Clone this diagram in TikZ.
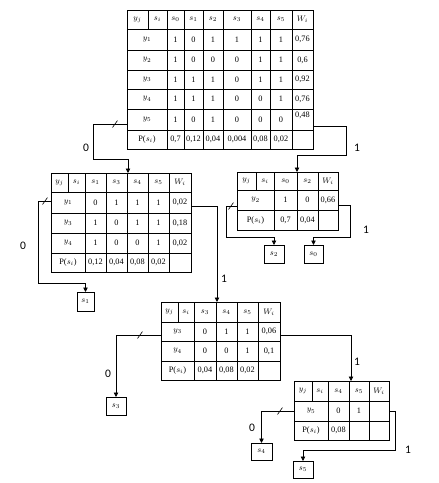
\documentclass[tikz,border=0pt]{standalone}
\usepackage{fontspec}
\setmainfont{Liberation Serif}
\newfontfamily\lblfont{Carlito}
\usetikzlibrary{arrows.meta}
\tikzset{
 tline/.style={line width=0.8pt, black},
 tbox/.style={draw, line width=0.8pt, inner sep=0pt, outer sep=0pt, anchor=north west},
 cellt/.style={inner sep=0pt, font=\fontsize{8.3}{9}\selectfont},
 leaf/.style={draw, line width=0.8pt, inner sep=0pt, outer sep=0pt, minimum width=19pt, minimum height=18pt, font=\fontsize{8.3}{9}\selectfont},
 conn/.style={line width=0.8pt},
 arr/.style={conn, -{Triangle[width=4.5pt,length=4.5pt]}},
 branch/.style={font=\lblfont\fontsize{11.5}{12}\selectfont, inner sep=0pt},
 tick/.style={line width=0.6pt}
}
\newcommand\vls[3]{\foreach \vx in {#1} {\draw[tline] (\vx,#2) -- (\vx,#3);}}
\newcommand\hls[3]{\foreach \hy in {#1} {\draw[tline] (#2,\hy) -- (#3,\hy);}}
\newcommand\trow[4]{\foreach \xa/\xb/\txt [count=\k] in {#4} {\node[cellt] (#1\k) at ({(\xa+\xb)/2},{(#2+#3)/2}) {\txt};}}
\newcommand\tick[2]{\draw[tick] (#1-2.5,#2+3.5) -- (#1+2.5,#2-3.5);}
\begin{document}
\begin{tikzpicture}[x=1pt,y=-1pt]
\useasboundingbox (0,0) rectangle (439,483);
% ---------- Table 1
\node[tbox, minimum width=186pt, minimum height=139pt] (T1) at (127,10) {};
\draw[tline] (148,10) -- (148,29);
\vls{167,184,203,223,251,270,292}{10}{149}
\hls{29,50,70,89,109,130}{127}{313}
\trow{t1h}{10}{29}{127/148/{$y_j$},148/167/{$s_i$},167/184/{$s_0$},184/203/{$s_1$},203/223/{$s_2$},223/251/{$s_3$},251/270/{$s_4$},270/292/{$s_5$},292/313/{$W_i$}}
\trow{t1a}{29}{50}{127/167/{$y_1$},167/184/1,184/203/0,203/223/1,223/251/1,251/270/1,270/292/1,292/313/{0,76}}
\trow{t1b}{50}{70}{127/167/{$y_2$},167/184/1,184/203/0,203/223/0,223/251/0,251/270/1,270/292/1,292/313/{0,6}}
\trow{t1c}{70}{89}{127/167/{$y_3$},167/184/1,184/203/1,203/223/1,223/251/0,251/270/1,270/292/1,292/313/{0,92}}
\trow{t1d}{89}{109}{127/167/{$y_4$},167/184/1,184/203/1,203/223/1,223/251/0,251/270/0,270/292/1,292/313/{0,76}}
\trow{t1e}{109}{130}{127/167/{$y_5$},167/184/1,184/203/0,203/223/1,223/251/0,251/270/0,270/292/0}
\node[cellt] (t1e8) at (302.5,115) {0,48};
\trow{t1p}{130}{149}{127/167/{P($s_i$)},167/184/{0,7},184/203/{0,12},203/223/{0,04},223/251/{0,004},251/270/{0,08},270/292/{0,02}}
% ---------- Table 2
\node[tbox, minimum width=140pt, minimum height=99pt] (T2) at (51,173) {};
\draw[tline] (68,173) -- (68,192);
\vls{85,106,127,148,169}{173}{272}
\hls{192,213,233,253}{51}{191}
\trow{t2h}{173}{192}{51/68/{$y_j$},68/85/{$s_i$},85/106/{$s_1$},106/127/{$s_3$},127/148/{$s_4$},148/169/{$s_5$},169/191/{$W_i$}}
\trow{t2a}{192}{213}{51/85/{$y_1$},85/106/0,106/127/1,127/148/1,148/169/1,169/191/{0,02}}
\trow{t2b}{213}{233}{51/85/{$y_3$},85/106/1,106/127/0,127/148/1,148/169/1,169/191/{0,18}}
\trow{t2c}{233}{253}{51/85/{$y_4$},85/106/1,106/127/0,127/148/0,148/169/1,169/191/{0,02}}
\trow{t2p}{253}{272}{51/85/{P($s_i$)},85/106/{0,12},106/127/{0,04},127/148/{0,08},148/169/{0,02}}
% ---------- Table R
\node[tbox, minimum width=101pt, minimum height=58pt] (TR) at (237,172) {};
\draw[tline] (256,172) -- (256,190);
\vls{274,297,318}{172}{230}
\hls{190,210}{237}{338}
\trow{trh}{172}{190}{237/256/{$y_j$},256/274/{$s_i$},274/297/{$s_0$},297/318/{$s_2$},318/338/{$W_i$}}
\trow{tra}{190}{210}{237/274/{$y_2$},274/297/1,297/318/0,318/338/{0,66}}
\trow{trp}{210}{230}{237/274/{P($s_i$)},274/297/{0,7},297/318/{0,04}}
% ---------- Table 3
\node[tbox, minimum width=119pt, minimum height=78pt] (T3) at (161,302) {};
\draw[tline] (178,302) -- (178,322);
\vls{194,216,237,258}{302}{380}
\hls{322,341,361}{161}{280}
\trow{t3h}{302}{322}{161/178/{$y_j$},178/194/{$s_i$},194/216/{$s_3$},216/237/{$s_4$},237/258/{$s_5$},258/280/{$W_i$}}
\trow{t3a}{322}{341}{161/194/{$y_3$},194/216/0,216/237/1,237/258/1,258/280/{0,06}}
\trow{t3b}{341}{361}{161/194/{$y_4$},194/216/0,216/237/0,237/258/1,258/280/{0,1}}
\trow{t3p}{361}{380}{161/194/{P($s_i$)},194/216/{0,04},216/237/{0,08},237/258/{0,02}}
% ---------- Table 4
\node[tbox, minimum width=95pt, minimum height=59pt] (T4) at (294,381) {};
\draw[tline] (312,381) -- (312,401);
\vls{328,349,369}{381}{440}
\hls{401,421}{294}{389}
\trow{t4h}{381}{401}{294/312/{$y_j$},312/328/{$s_i$},328/349/{$s_4$},349/369/{$s_5$},369/389/{$W_i$}}
\trow{t4a}{401}{421}{294/328/{$y_5$},328/349/0,349/369/1}
\trow{t4p}{421}{440}{294/328/{P($s_i$)},328/349/{0,08}}
% ---------- Leaves
\node[leaf, minimum width=17pt, minimum height=19pt] (L1) at (85.5,301.5) {$s_1$};
\node[leaf, minimum width=20pt] (L2) at (274,254) {$s_2$};
\node[leaf] (L0) at (313.5,254) {$s_0$};
\node[leaf, minimum width=20pt] (L3) at (116,406) {$s_3$};
\node[leaf, minimum width=21pt, minimum height=17pt] (L4) at (261.5,451.5) {$s_4$};
\node[leaf, minimum width=20pt, minimum height=17pt] (L5) at (303,469.5) {$s_5$};
% ---------- Connectors
\draw[arr] ([yshift=-114pt]T1.north west) -| (93,159) -| ([xshift=77pt]T2.north west);
\draw[arr] ([yshift=-116pt]T1.north east) -| (346,155) -| ([xshift=60pt]TR.north west);
\draw[arr] ([yshift=-28pt]T2.north west) -| (38,283) -| (L1.north);
\draw[arr] ([yshift=-33pt]T2.north east) -| ([xshift=56pt]T3.north west);
\draw[arr] ([yshift=-34pt]TR.north west) -| (226,237) -| (L2.north);
\draw[arr] ([yshift=-33pt]TR.north east) -| (350,237) -| (L0.north);
\draw[arr] ([yshift=-33pt]T3.north west) -| (L3.north);
\draw[arr] ([yshift=-33pt]T3.north east) -| ([xshift=57pt]T4.north west);
\draw[arr] ([yshift=-30pt]T4.north west) -| (L4.north);
\draw[arr] ([yshift=-30pt]T4.north east) -| (395,450) -| (L5.north);
% ---------- Ticks
\tick{115}{124}
\tick{45}{201}
\tick{231}{206}
\tick{140}{335}
\tick{280}{411}
% ---------- Branch labels
\node[branch] (b1) at (86,148) {0};
\node[branch] (b2) at (357,148) {1};
\node[branch] (b3) at (23,246) {0};
\node[branch] (b4) at (224,279) {1};
\node[branch] (b5) at (366,230) {1};
\node[branch] (b6) at (108,374) {0};
\node[branch] (b7) at (357,362) {1};
\node[branch] (b8) at (252,428) {0};
\node[branch] (b9) at (408,450) {1};
\end{tikzpicture}
\end{document}
